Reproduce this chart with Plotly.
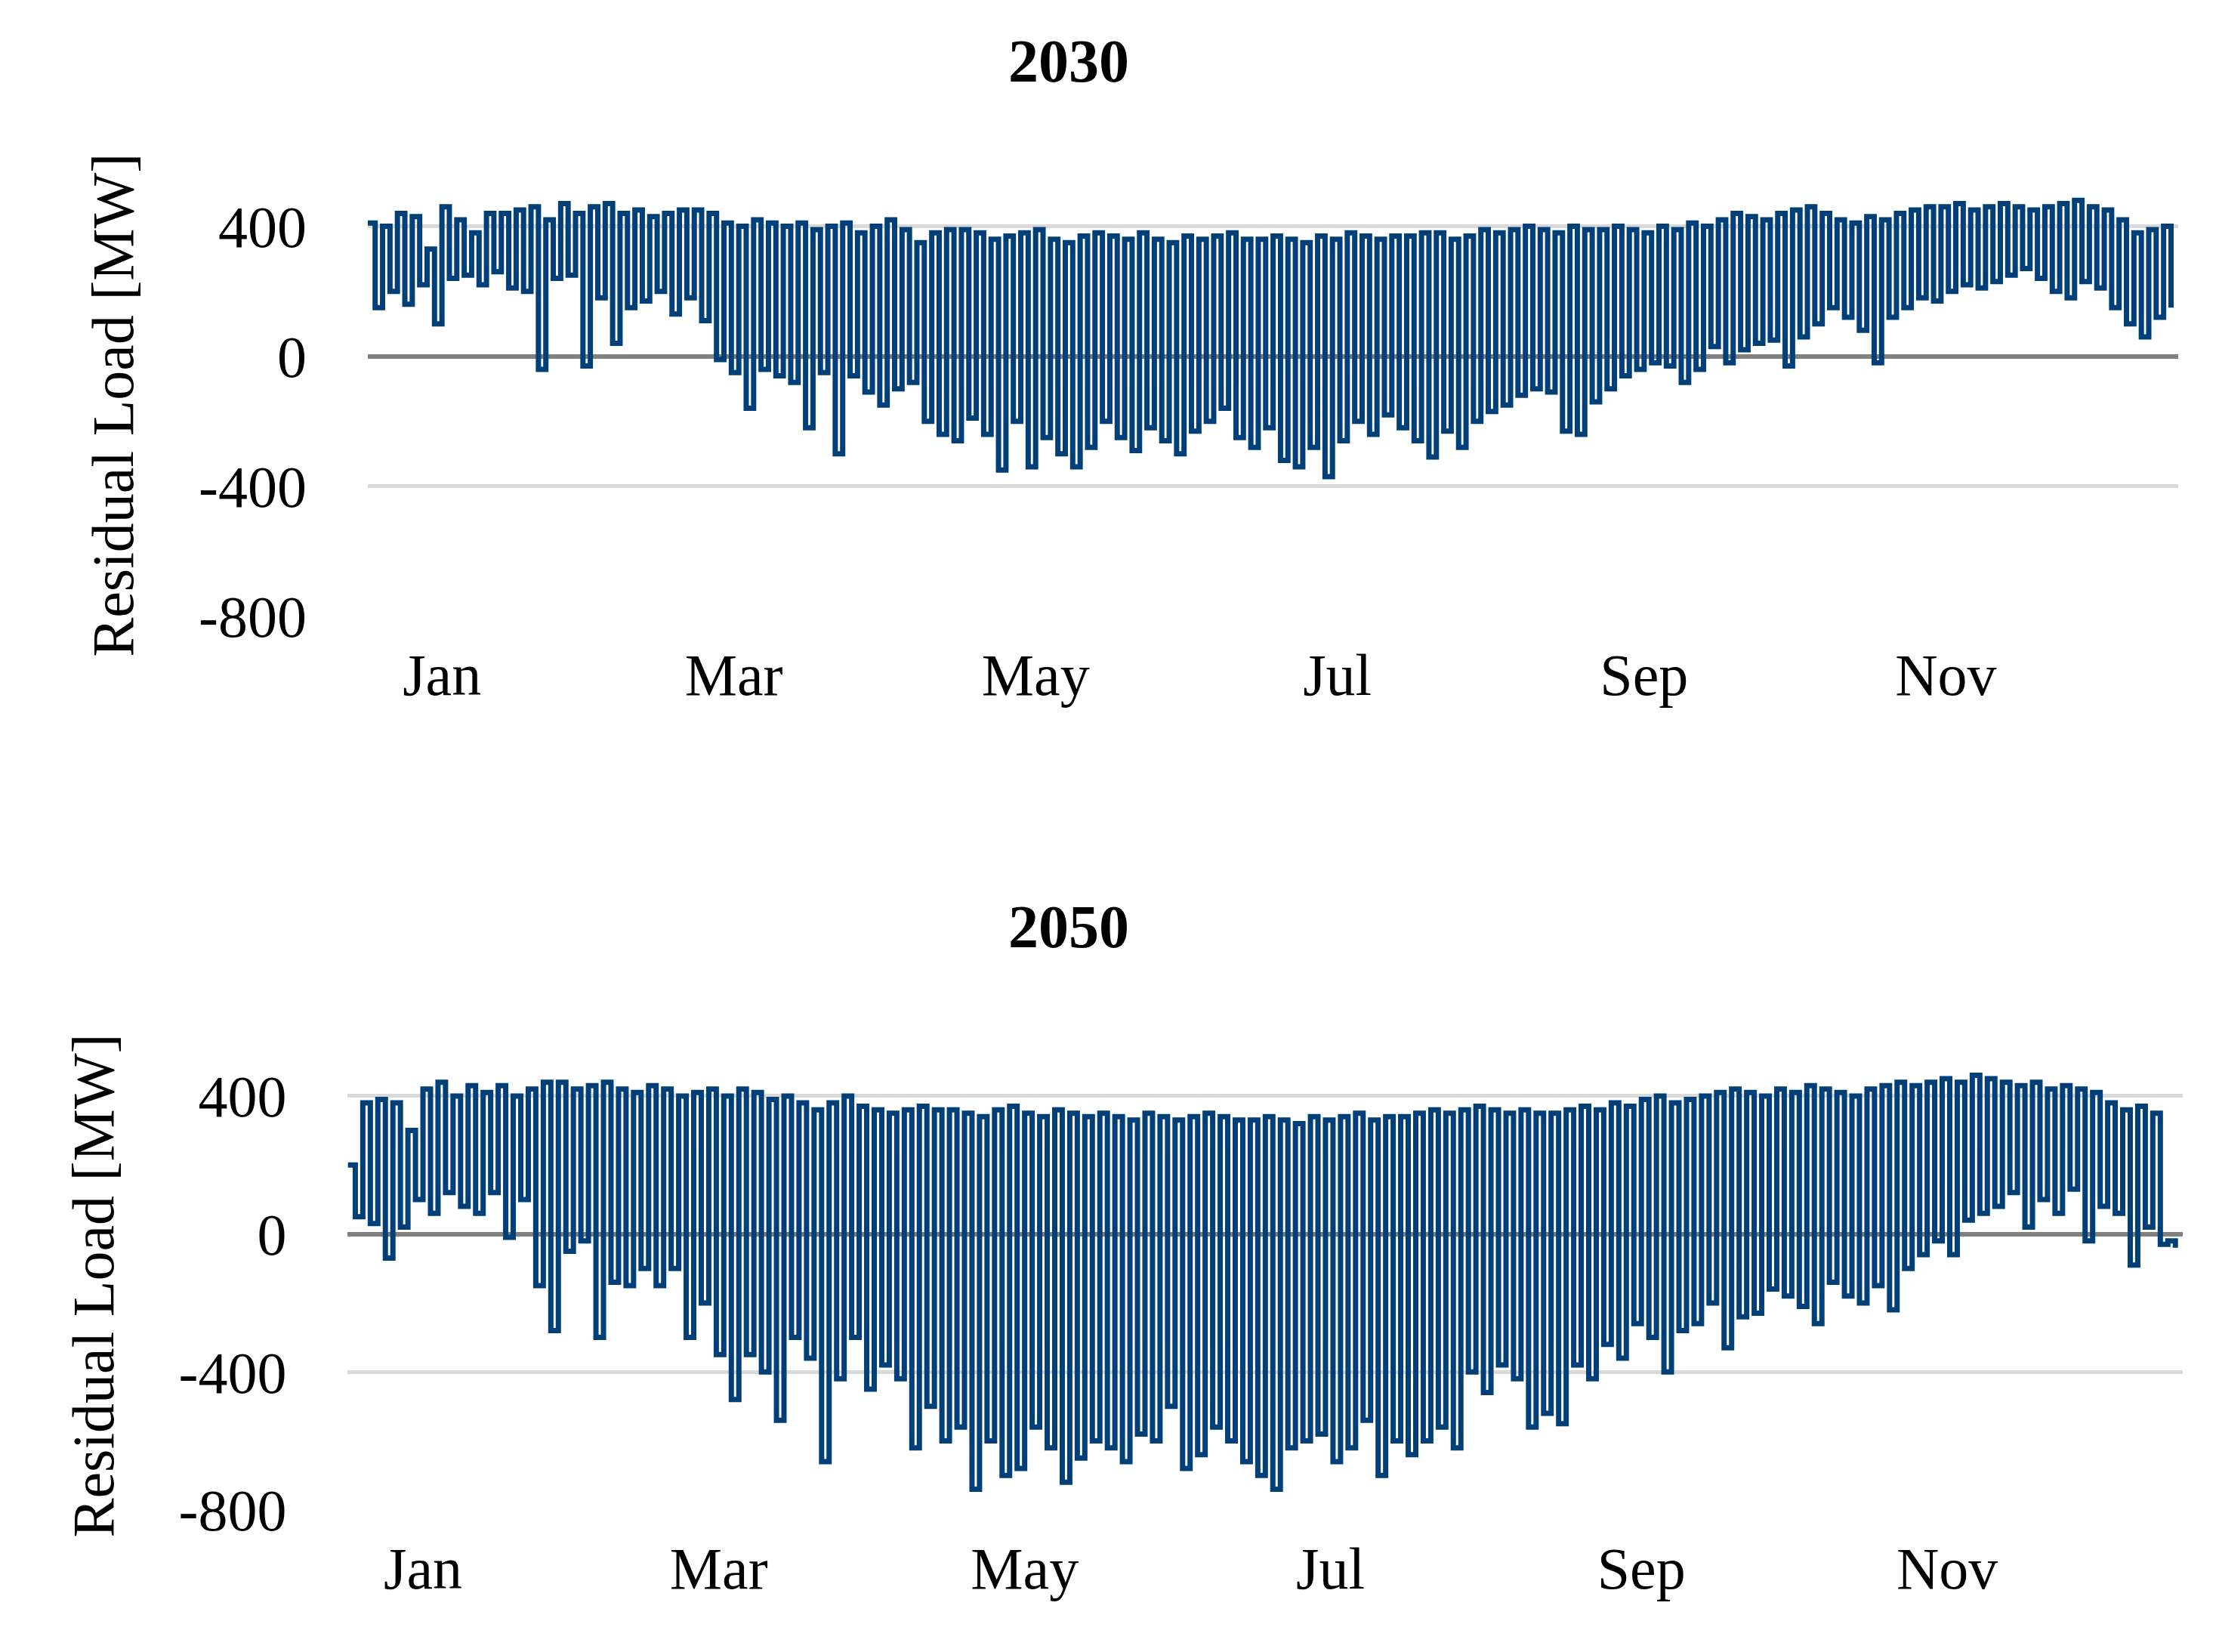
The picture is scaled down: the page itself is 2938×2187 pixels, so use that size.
import plotly.graph_objects as go

months = ["Jan", "Mar", "May", "Jul", "Sep", "Nov"]
month_pos = [15, 74, 135, 196, 258, 319]
yticks = [400, 0, -400, -800]
ytick_text = ["400", "0", "-400", "-800"]

max_2030 = [410,400,440,430,330,460,420,380,440,440,
 450,460,420,470,440,460,470,440,450,430,
 440,450,450,440,410,400,420,410,400,410,
 390,400,410,380,400,420,390,350,380,390,
 390,380,360,370,380,390,360,350,370,380,
 370,360,380,360,350,370,360,370,380,360,
 360,370,360,350,370,360,380,370,360,370,
 370,380,380,360,370,390,380,390,400,390,
 380,400,390,390,400,390,380,400,390,410,
 400,420,440,430,420,440,450,460,440,420,
 410,430,420,440,450,460,460,470,450,460,
 470,460,450,460,470,480,460,450,420,380,390,400]
min_2030 = [150,200,160,220,100,240,250,220,260,210,
 200,-40,240,250,-30,180,40,150,170,200,
 130,180,110,-10,-50,-160,-40,-60,-80,-220,
 -50,-300,-60,-110,-150,-100,-80,-200,-240,-260,
 -190,-240,-350,-200,-340,-250,-300,-340,-280,-200,
 -250,-290,-220,-260,-300,-230,-200,-160,-250,-280,
 -220,-320,-340,-280,-370,-260,-200,-240,-180,-220,
 -260,-310,-230,-280,-200,-170,-150,-120,-100,-110,
 -230,-240,-140,-100,-60,-40,-20,-30,-80,-40,
 30,-20,20,40,50,-30,60,100,150,120,
 80,-20,120,150,180,170,200,220,210,230,
 250,270,240,200,180,230,210,150,100,60,120,150]
max_2050 = [200,380,390,380,300,420,440,400,430,410,
 430,400,420,440,440,420,430,440,420,410,
 430,420,400,410,420,400,420,410,390,400,
 380,360,380,400,370,360,350,360,370,360,
 360,350,340,360,370,350,340,360,350,340,
 350,340,330,350,340,330,340,350,340,330,
 330,340,330,320,340,330,340,350,330,340,
 340,350,360,350,360,370,360,350,360,350,
 350,360,370,360,380,370,390,400,380,390,
 400,410,420,410,400,420,410,430,420,410,
 400,420,430,440,430,440,450,440,460,450,
 440,430,440,420,430,420,410,380,360,370,350,-20]
min_2050 = [50,30,-70,20,100,60,120,80,60,120,
 -10,100,-150,-280,-50,-20,-300,-140,-150,-100,
 -150,-100,-300,-200,-350,-480,-350,-400,-540,-300,
 -360,-660,-420,-300,-450,-380,-420,-620,-500,-600,
 -560,-740,-600,-700,-680,-560,-620,-720,-650,-600,
 -620,-660,-580,-600,-500,-680,-640,-560,-600,-660,
 -700,-740,-620,-600,-580,-660,-620,-540,-700,-600,
 -640,-600,-560,-620,-400,-460,-380,-420,-560,-520,
 -550,-380,-420,-320,-360,-260,-300,-400,-280,-260,
 -200,-330,-240,-230,-160,-180,-210,-260,-140,-180,
 -200,-150,-220,-100,-60,-20,-60,40,60,80,
 120,20,100,60,130,-20,80,60,-90,20,-30,-40]

def steps(mx, mn):
    xs, ys = [], []
    for i, (a, b) in enumerate(zip(mx, mn)):
        xs += [i*3, i*3+1.5]
        ys += [a, b]
    return xs, ys

FONT = "Liberation Serif"
BLUE = "#003f78"
fig = go.Figure()
for mx, mn, xa, ya in [(max_2030, min_2030, "x", "y"), (max_2050, min_2050, "x2", "y2")]:
    xs, ys = steps(mx, mn)
    fig.add_trace(go.Scatter(x=xs, y=ys, mode="lines", line=dict(color=BLUE, width=7, shape="hv"),
                             xaxis=xa, yaxis=ya, showlegend=False))

ax_common = dict(range=[0, 366], tickvals=month_pos, ticktext=months, showgrid=False,
                 zeroline=False, showline=False, ticks="", ticklabelstandoff=25,
                 tickfont=dict(family=FONT, size=78, color="black"))
ay_common = dict(range=[-800, 500], tickvals=yticks, ticktext=ytick_text, showgrid=True,
                 gridcolor="#d9d9d9", gridwidth=5, zeroline=True, zerolinecolor="#808080",
                 zerolinewidth=6, ticks="", ticklabelstandoff=80,
                 tickfont=dict(family=FONT, size=78, color="black"),
                 title=dict(text="Residual Load [MW]", font=dict(family=FONT, size=78, color="black"),
                            standoff=60))
fig.update_layout(
    width=2938, height=2187, plot_bgcolor="white", paper_bgcolor="white",
    margin=dict(l=0, r=0, t=0, b=0),
    xaxis=dict(domain=[0.163, 0.979], anchor="y", **ax_common),
    yaxis=dict(domain=[0.623, 0.884], anchor="x", **ay_common),
    xaxis2=dict(domain=[0.154, 0.981], anchor="y2", **ax_common),
    yaxis2=dict(domain=[0.071, 0.348], anchor="x2", **ay_common),
    annotations=[
        dict(text="<b>2030</b>", x=0.479, y=1-75/2187, xref="paper", yref="paper", yanchor="middle",
             showarrow=False, font=dict(family=FONT, size=80, color="black")),
        dict(text="<b>2050</b>", x=0.479, y=1-1244/2187, xref="paper", yref="paper", yanchor="middle",
             showarrow=False, font=dict(family=FONT, size=80, color="black")),
    ],
)
fig.write_html("out.html")
